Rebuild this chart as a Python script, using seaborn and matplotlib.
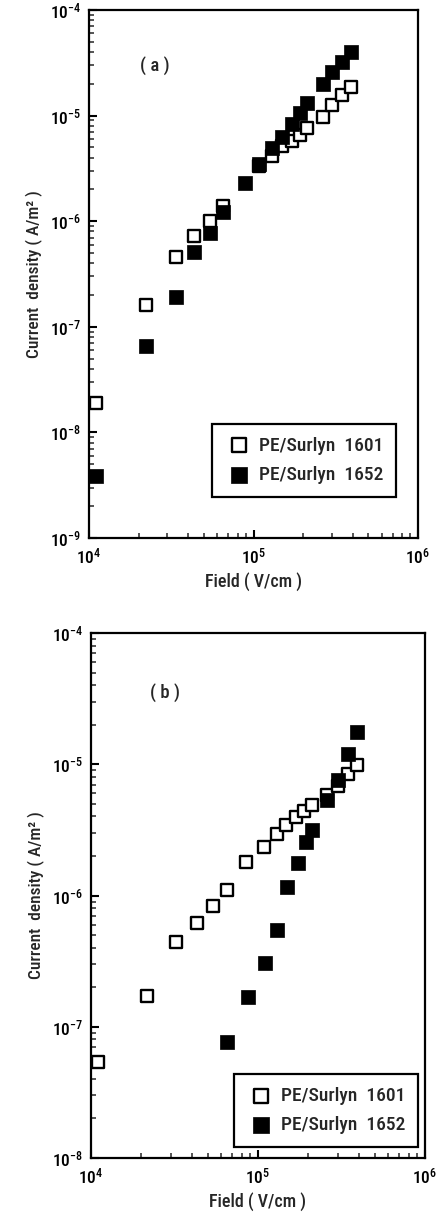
import numpy as np
import pandas as pd
import matplotlib
matplotlib.use("Agg")
import matplotlib.pyplot as plt
import seaborn as sns
from matplotlib import font_manager as fm
from matplotlib.ticker import LogLocator, NullFormatter, FixedLocator, FixedFormatter

# ---- data: panel (a) ----
field_a_1601 = [1.11e4, 2.21e4, 3.36e4, 4.32e4, 5.44e4, 6.55e4, 1.08e5, 1.29e5,
                1.49e5, 1.71e5, 1.92e5, 2.11e5, 2.63e5, 3.0e5, 3.44e5, 3.89e5]
curr_a_1601 = [1.9e-8, 1.6e-7, 4.6e-7, 7.3e-7, 1.0e-6, 1.4e-6, 3.3e-6, 4.1e-6,
               5.1e-6, 5.7e-6, 6.6e-6, 7.6e-6, 9.8e-6, 1.26e-5, 1.57e-5, 1.88e-5]
field_a_1652 = [1.11e4, 2.21e4, 3.36e4, 4.32e4, 5.44e4, 6.55e4, 8.87e4, 1.08e5, 1.29e5,
                1.49e5, 1.71e5, 1.92e5, 2.11e5, 2.63e5, 3.0e5, 3.44e5, 3.89e5]
curr_a_1652 = [3.9e-9, 6.6e-8, 1.93e-7, 5.1e-7, 7.7e-7, 1.23e-6, 2.3e-6, 3.5e-6, 4.9e-6,
               6.3e-6, 8.4e-6, 1.05e-5, 1.31e-5, 2.0e-5, 2.6e-5, 3.2e-5, 4.0e-5]

# ---- data: panel (b) ----
field_b_1601 = [1.10e4, 2.16e4, 3.22e4, 4.29e4, 5.38e4, 6.48e4, 8.47e4, 1.09e5, 1.30e5,
                1.48e5, 1.70e5, 1.88e5, 2.12e5, 2.59e5, 3.01e5, 3.48e5, 3.89e5]
curr_b_1601 = [5.4e-8, 1.73e-7, 4.4e-7, 6.2e-7, 8.3e-7, 1.11e-6, 1.8e-6, 2.34e-6, 2.96e-6,
               3.45e-6, 3.94e-6, 4.4e-6, 4.85e-6, 5.8e-6, 6.8e-6, 8.5e-6, 9.8e-6]
field_b_1652 = [6.56e4, 8.75e4, 1.10e5, 1.30e5, 1.50e5, 1.74e5, 1.94e5, 2.12e5,
                2.59e5, 3.01e5, 3.48e5, 3.89e5]
curr_b_1652 = [7.7e-8, 1.68e-7, 3.05e-7, 5.5e-7, 1.17e-6, 1.76e-6, 2.56e-6, 3.18e-6,
               5.3e-6, 7.6e-6, 1.2e-5, 1.77e-5]

series_labels = ["PE/Surlyn  1601", "PE/Surlyn  1652"]
panel_tags = ["( a )", "( b )"]
x_label = "Field ( V/cm )"
y_label = "Current  density ( A/m² )"

# pick a condensed sans family if one is installed
names = {f.name for f in fm.fontManager.ttflist}
candidates = ["Liberation Sans Narrow", "Arial Narrow", "Roboto Condensed", "Archivo Narrow",
              "PT Sans Narrow", "Fira Sans Condensed", "IBM Plex Sans Condensed",
              "Encode Sans Condensed", "Asap Condensed", "Liberation Sans"]
main_font = next((c for c in candidates if c in names), "DejaVu Sans")

sns.set_theme(style="ticks")
plt.rcParams["font.family"] = [main_font, "Liberation Sans", "DejaVu Sans"]
plt.rcParams["font.weight"] = "medium"
plt.rcParams["axes.labelweight"] = "medium"
plt.rcParams["mathtext.fontset"] = "custom"
plt.rcParams["mathtext.rm"] = main_font + ":medium"
plt.rcParams["mathtext.it"] = main_font + ":medium"
plt.rcParams["mathtext.bf"] = main_font + ":bold"
plt.rcParams["mathtext.default"] = "regular"

fig = plt.figure(figsize=(4.38, 12.22), dpi=100)
ax1 = fig.add_axes([89/438, 1-538/1222, 329/438, 528/1222])
ax2 = fig.add_axes([91/438, 1-1158/1222, 334/438, 525/1222])

panels = [
    (ax1, field_a_1601, curr_a_1601, field_a_1652, curr_a_1652, (1e-9, 1e-4),
     list(range(-9, -3)), (0.933, 0.078), (0.20, 0.894)),
    (ax2, field_b_1601, curr_b_1601, field_b_1652, curr_b_1652, (1e-8, 1e-4),
     list(range(-8, -3)), (0.979, 0.021), (0.222, 0.886)),
]

for i, (ax, fx1, cy1, fx2, cy2, ylim, yexp, leg_anchor, tagpos) in enumerate(panels):
    sns.scatterplot(x=fx1, y=cy1, ax=ax, marker="s", s=70, color="white",
                    edgecolor="black", linewidth=1.7, label=series_labels[0], zorder=3)
    sns.scatterplot(x=fx2, y=cy2, ax=ax, marker="s", s=95, color="black",
                    edgecolor="black", linewidth=0.5, label=series_labels[1], zorder=4)
    ax.set_xscale("log")
    ax.set_yscale("log")
    ax.set_xlim(1e4, 1e6)
    ax.set_ylim(*ylim)
    ax.xaxis.set_major_locator(FixedLocator([1e4, 1e5, 1e6]))
    ax.xaxis.set_major_formatter(FixedFormatter([r"$10^{4}$", r"$10^{5}$", r"$10^{6}$"]))
    ax.xaxis.set_minor_locator(LogLocator(base=10, subs=np.arange(2, 10), numticks=20))
    ax.xaxis.set_minor_formatter(NullFormatter())
    ax.yaxis.set_major_locator(FixedLocator([10.0**e for e in yexp]))
    ax.yaxis.set_major_formatter(FixedFormatter([r"$10^{%d}$" % e for e in yexp]))
    ax.yaxis.set_minor_locator(LogLocator(base=10, subs=np.arange(2, 10), numticks=20))
    ax.yaxis.set_minor_formatter(NullFormatter())
    ax.tick_params(which="major", direction="in", length=6, width=1.5,
                   labelsize=12.5, colors="black")
    ax.tick_params(axis="y", which="major", pad=6)
    ax.tick_params(axis="x", which="major", pad=6)
    ax.tick_params(which="minor", direction="in", length=3.5, width=1.1)
    for sp in ax.spines.values():
        sp.set_linewidth(1.6)
        sp.set_color("black")
    ax.set_xlabel(x_label, fontsize=13, labelpad=4)
    ax.set_ylabel(y_label, fontsize=12.5, labelpad=5)
    ax.text(tagpos[0], tagpos[1], panel_tags[i], transform=ax.transAxes,
            fontsize=13.5, ha="center", va="center")
    leg = ax.legend(loc="lower right", bbox_to_anchor=leg_anchor, frameon=True,
                    fancybox=False, framealpha=1, edgecolor="black", fontsize=14,
                    markerscale=1.25, handletextpad=0.35, labelspacing=0.6,
                    borderpad=0.65, borderaxespad=0.0, handlelength=1.4)
    leg.get_frame().set_linewidth(1.6)

fig.savefig("out.png", dpi=100, facecolor="white")
